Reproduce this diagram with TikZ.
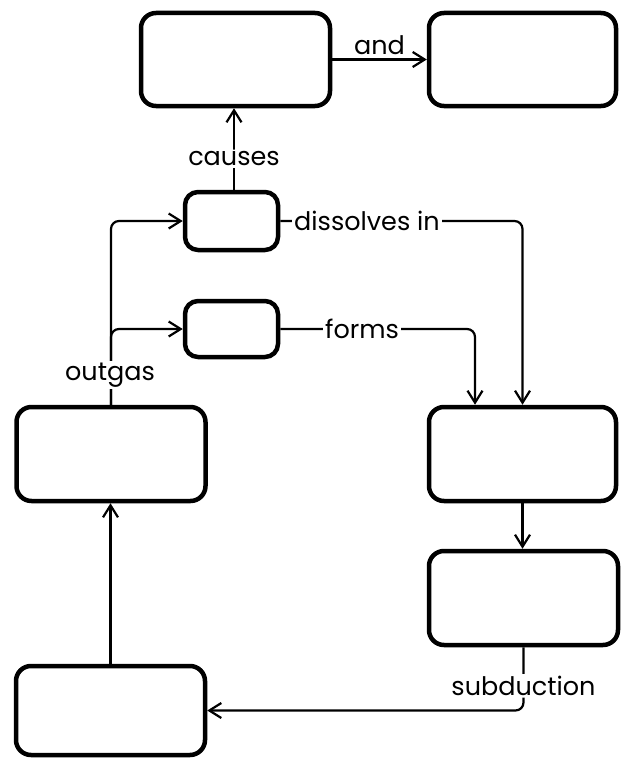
\documentclass[tikz,border=0pt]{standalone}
\usepackage{fontspec}
\setmainfont{Poppins}
\usetikzlibrary{arrows.meta}
\begin{document}
\begin{tikzpicture}[x=1pt,y=-1pt,
  box/.style={draw=black, line width=4.5pt, rounded corners=15pt, minimum width=189pt, minimum height=93pt, inner sep=0pt},
  smallbox/.style={draw=black, line width=4.5pt, rounded corners=13pt, minimum width=93pt, minimum height=58pt, inner sep=0pt},
  conn/.style={draw=black, line width=2.2pt, rounded corners=8pt},
  arr/.style={conn, -{Straight Barb[length=12pt,width=15pt]}},
  lbl/.style={fill=white, inner sep=2pt, font=\fontsize{25.5}{28}\selectfont},
]
\useasboundingbox (0,0) rectangle (621,760);
\node[box] (A) at (235.5,59.5) {};
\node[box, minimum width=187pt] (B) at (522.5,59.5) {};
\node[smallbox] (C) at (231.5,221) {};
\node[smallbox, minimum height=56pt] (D) at (231.5,329) {};
\node[box, minimum height=94pt] (E) at (111,454) {};
\node[box, minimum width=187pt, minimum height=94pt] (F) at (522.5,454) {};
\node[box, minimum height=94pt] (G) at (523.5,598) {};
\node[box, minimum height=89pt] (H) at (110.5,710.5) {};

\draw[arr] (A.east) -- node[lbl, fill=none, above, inner sep=1pt, yshift=3pt] {and} (B.west);
\draw[arr] ([xshift=2.5pt]C.north) -- node[lbl, pos=0.38] {causes} ([xshift=2.5pt]C.north |- A.south);
\draw[arr] (C.east) -| node[lbl, pos=0.179] {dissolves in} (F.north);
\draw[arr] (D.east) -| node[lbl, pos=0.21] {forms} ([xshift=-47.5pt]F.north);
\draw[arr] (E.north) |- (C.west);
\draw[arr] (E.north) |- (D.west);
\node[lbl] (outgas) at (110,375) {outgas};
\draw[arr] (F.south) -- (F.south |- G.north);
\draw[arr] (G.south) |- node[lbl, pos=0.305] {subduction} (H.east);
\draw[arr] (H.north) -- (H.north |- E.south);
\end{tikzpicture}
\end{document}
